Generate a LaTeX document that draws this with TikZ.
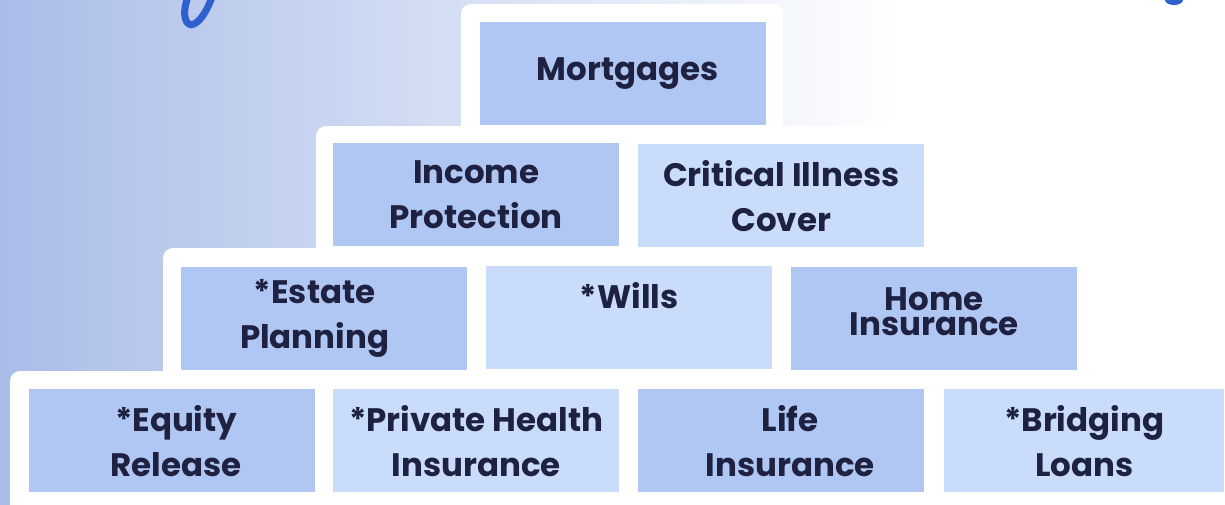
\documentclass[tikz,border=0pt]{standalone}
\usepackage{fontspec}
\setmainfont{Poppins}
\definecolor{bgblue}{RGB}{170,189,232}
\definecolor{boxdark}{RGB}{176,199,243}
\definecolor{boxlight}{RGB}{201,220,251}
\definecolor{ink}{RGB}{30,33,64}
\definecolor{pen}{RGB}{46,96,206}
\begin{document}
\begin{tikzpicture}[x=1pt,y=-1pt,
  tile/.style={draw=none, rectangle, inner sep=0pt, minimum width=286pt,
    minimum height=103pt, anchor=north west, align=center, text=ink,
    font=\bfseries\fontsize{32.5}{45}\selectfont},
  dark/.style={tile, fill=boxdark},
  light/.style={tile, fill=boxlight},
  tier/.style={fill=white, rounded corners=10pt},
  penstroke/.style={draw=pen, line width=7pt, line cap=round}]
\useasboundingbox (0,0) rectangle (1225,504);
% background gradient
\shade[left color=bgblue, right color=white] (0,0) rectangle (900,504);
% white staircase
\fill[tier] (461,4) rectangle (783,530);
\fill[tier] (316,126) rectangle (1250,530);
\fill[tier] (163,248) rectangle (1250,530);
\fill[tier] (10,371) rectangle (1250,530);
% partial pen strokes of the cut-off title
\draw[penstroke] (188,-3) .. controls (181,15) and (186,28) .. (194,24)
  .. controls (202,20) and (208,8) .. (212,-3);
\fill[pen] (1165,0) arc[start angle=180, end angle=360, x radius=9, y radius=-5] -- cycle;
% row 1
\node[dark] (mort) at (480,22) {\hspace*{9pt}Mortgages\rule[-8pt]{0pt}{0pt}};
% row 2
\node[dark]  (income) at (333,143) {Income\\Protection};
\node[light] (critical) at (638,144) {Critical Illness\\Cover};
% row 3
\node[dark]  (estate) at (181,267) {*Estate\hspace*{19pt}\\Planning\hspace*{19pt}};
\node[light] (wills) at (486,266) {*Wills\\\mbox{}};
\node[dark]  (home) at (791,267) {Home\\[-20pt]Insurance\rule[-15pt]{0pt}{0pt}};
% row 4
\node[dark]  (equity) at (29,389) {\hspace*{8pt}*Equity\\\hspace*{8pt}Release};
\node[light] (health) at (333,389) {*Private Health\\Insurance};
\node[dark]  (life) at (638,389) {\hspace*{18pt}Life\\\hspace*{18pt}Insurance};
\node[light, minimum width=280pt] (bridging) at (944,389) {*Bridging\\Loans};
\end{tikzpicture}
\end{document}
